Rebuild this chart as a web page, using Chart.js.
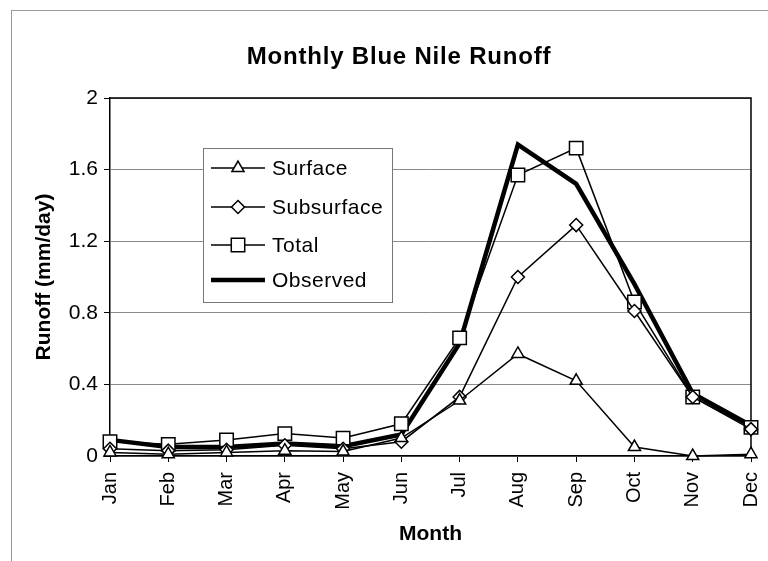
<!DOCTYPE html>
<html><head><meta charset="utf-8">
<script src="https://cdn.jsdelivr.net/npm/chart.js@4/dist/chart.umd.min.js"></script>
<style>
html,body{margin:0;padding:0;background:#fff;}
#wrap{position:relative;width:768px;height:561px;overflow:hidden;}
#frame{position:absolute;left:11px;top:10px;width:800px;height:600px;border-top:1px solid #9a9a9a;border-left:1px solid #9a9a9a;}
canvas{position:absolute;left:0;top:0;}
</style></head><body>
<div id="wrap"><div id="frame"></div><canvas id="c" width="768" height="561"></canvas></div>
<script>
const months = ['Jan','Feb','Mar','Apr','May','Jun','Jul','Aug','Sep','Oct','Nov','Dec'];
const surface    = [0.02, 0.01, 0.02, 0.03, 0.025, 0.10, 0.31, 0.57, 0.42, 0.05, 0.00, 0.01];
const subsurface = [0.04, 0.03, 0.035, 0.06, 0.04, 0.08, 0.33, 1.00, 1.29, 0.81, 0.33, 0.15];
const total      = [0.08, 0.065, 0.09, 0.125, 0.10, 0.18, 0.66, 1.57, 1.72, 0.86, 0.33, 0.16];
const observed   = [0.09, 0.05, 0.05, 0.07, 0.055, 0.12, 0.63, 1.74, 1.52, 0.96, 0.35, 0.17];
const seriesNames = ['Surface','Subsurface','Total','Observed'];
const yTickLabels = ['0','0.4','0.8','1.2','1.6','2'];
const chartTitle = 'Monthly Blue Nile Runoff';
const xAxisTitle = 'Month';
const yAxisTitle = 'Runoff (mm/day)';

const FONT = '"Liberation Sans", Arial, Helvetica, sans-serif';

function markerPath(ctx, style, r, x, y) {
  ctx.beginPath();
  if (style === 'triangle') {
    for (let k = 0; k < 3; k++) {
      const a = -Math.PI/2 + k*2*Math.PI/3;
      const px = x + r*Math.cos(a), py = y + r*Math.sin(a);
      k ? ctx.lineTo(px, py) : ctx.moveTo(px, py);
    }
  } else if (style === 'rectRot') {
    ctx.moveTo(x, y - r); ctx.lineTo(x + r, y); ctx.lineTo(x, y + r); ctx.lineTo(x - r, y);
  } else if (style === 'rect') {
    const s = Math.SQRT1_2 * r;
    ctx.rect(x - s, y - s, 2*s, 2*s);
  }
  ctx.closePath();
}

const titlePlugin = {
  id: 'spacedTitle',
  afterDraw(chart) {
    const {ctx} = chart;
    ctx.save();
    ctx.fillStyle = '#000';
    ctx.font = 'bold 24px ' + FONT;
    if ('letterSpacing' in ctx) ctx.letterSpacing = '0.8px';
    ctx.textAlign = 'center';
    ctx.textBaseline = 'middle';
    ctx.fillText(chartTitle, chart.width / 2 + 15, 57);
    ctx.restore();
  }
};

const framePlugin = {
  id: 'frame',
  beforeDatasetsDraw(chart) {
    const {ctx, chartArea: a} = chart;
    ctx.save();
    ctx.strokeStyle = '#000';
    ctx.lineWidth = 1.5;
    ctx.beginPath();
    ctx.moveTo(a.left, a.top); ctx.lineTo(a.right, a.top); ctx.lineTo(a.right, a.bottom);
    ctx.stroke();
    ctx.restore();
  }
};

const legendPlugin = {
  id: 'boxLegend',
  afterDraw(chart) {
    const {ctx, chartArea: a} = chart;
    const bx = a.left + 93, by = a.top + 50, bw = 189, bh = 154;
    const rows = [20, 59, 97, 132];
    ctx.save();
    ctx.fillStyle = '#fff';
    ctx.fillRect(bx, by, bw, bh);
    ctx.strokeStyle = '#777';
    ctx.lineWidth = 1;
    ctx.strokeRect(bx + 0.5, by + 0.5, bw, bh);
    chart.data.datasets.forEach((ds, i) => {
      const y = by + rows[i];
      ctx.strokeStyle = '#000';
      ctx.lineWidth = ds.borderWidth;
      ctx.beginPath(); ctx.moveTo(bx + 8, y); ctx.lineTo(bx + 62, y); ctx.stroke();
      if (ds.pointRadius > 0) {
        markerPath(ctx, ds.pointStyle, ds.pointRadius, bx + 35, y);
        ctx.fillStyle = '#fff'; ctx.fill();
        ctx.lineWidth = ds.pointBorderWidth; ctx.stroke();
      }
      ctx.fillStyle = '#000';
      ctx.font = '21px ' + FONT;
      if ('letterSpacing' in ctx) ctx.letterSpacing = '0.5px';
      ctx.textBaseline = 'middle';
      ctx.textAlign = 'left';
      ctx.fillText(ds.label, bx + 69, y + 1);
    });
    ctx.restore();
  }
};

const mk = (label, data, style, r, bw) => ({
  label, data,
  borderColor: '#000', backgroundColor: '#fff',
  borderWidth: bw, tension: 0, clip: false,
  pointStyle: style, pointRadius: r, pointHoverRadius: r,
  pointBackgroundColor: '#fff', pointBorderColor: '#000', pointBorderWidth: 1.5
});

new Chart(document.getElementById('c'), {
  type: 'line',
  data: {
    labels: months,
    datasets: [
      mk(seriesNames[0], surface, 'triangle', 7, 1.5),
      mk(seriesNames[1], subsurface, 'rectRot', 6.5, 1.5),
      mk(seriesNames[2], total, 'rect', 9.5, 1.5),
      mk(seriesNames[3], observed, 'circle', 0, 4.5)
    ]
  },
  options: {
    responsive: false, animation: false, devicePixelRatio: 1,
    layout: { padding: { left: 12, right: 17, top: 98, bottom: 0 } },
    plugins: {
      legend: { display: false },
      tooltip: { enabled: false },
      title: { display: false }
    },
    scales: {
      x: {
        type: 'category', offset: false,
        grid: { drawOnChartArea: false, drawTicks: true, tickLength: 6, tickColor: '#000' },
        border: { color: '#000', width: 1.5 },
        ticks: { color: '#000', font: { family: FONT, size: 20 }, maxRotation: 90, minRotation: 90, autoSkip: false, padding: 10 },
        title: { display: true, text: xAxisTitle, color: '#000', font: { family: FONT, size: 21, weight: 'bold' }, padding: { top: 4, bottom: 14 } },
        afterFit(s) { s.height = 105; s.paddingLeft = 0; s.paddingRight = 0; }
      },
      y: {
        min: 0, max: 2,
        grid: { color: '#8a8a8a', lineWidth: 1, drawTicks: true, tickLength: 6, tickColor: '#000' },
        border: { color: '#000', width: 1.5 },
        ticks: { stepSize: 0.4, color: '#000', font: { family: FONT, size: 21 }, padding: 6,
          callback: (v, i) => yTickLabels[i] },
        title: { display: true, text: yAxisTitle, color: '#000', font: { family: FONT, size: 21, weight: 'bold' }, padding: { top: 20, bottom: 4 } },
        afterFit(s) { s.width = 98; s.paddingTop = 0; s.paddingBottom = 0; }
      }
    }
  },
  plugins: [framePlugin, legendPlugin, titlePlugin]
});
</script>
</body></html>
